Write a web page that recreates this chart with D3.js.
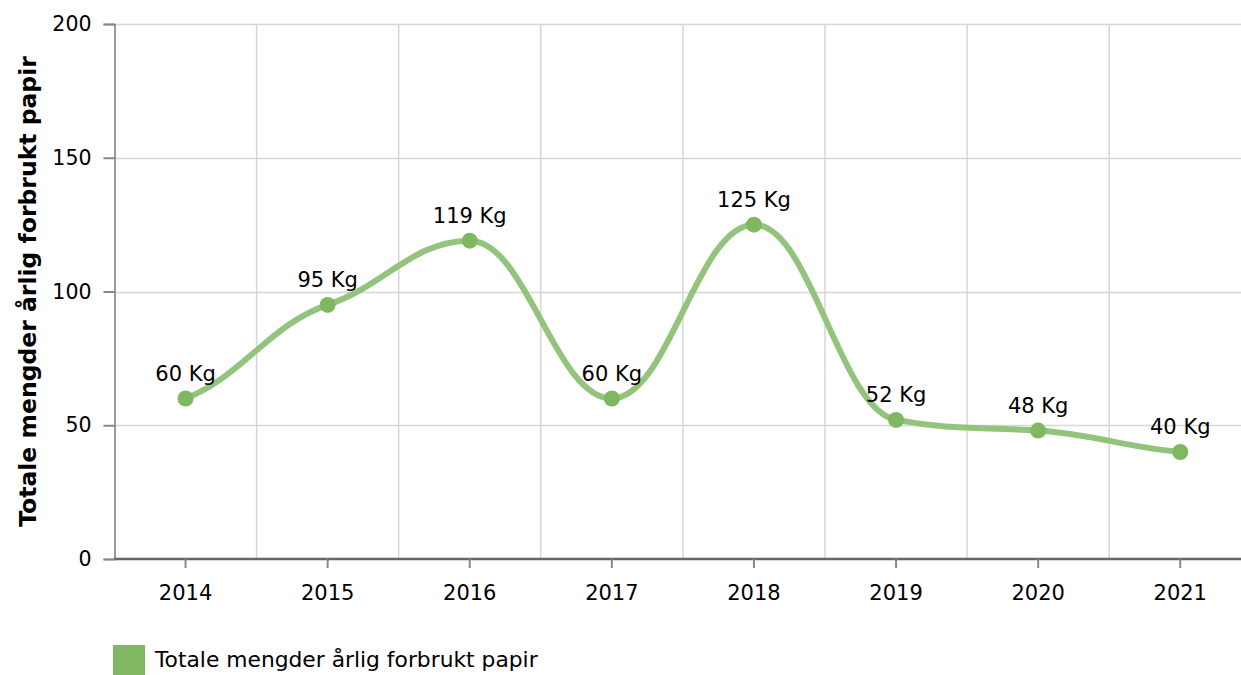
<!DOCTYPE html>
<html>
<head>
<meta charset="utf-8">
<script src="https://cdn.jsdelivr.net/npm/d3@7"></script>
<style>
  body { margin: 0; background: #fff; }
  text { font-family: "DejaVu Sans", Verdana, sans-serif; }
</style>
</head>
<body>
<div id="chart"></div>
<script>
var years = ["2014", "2015", "2016", "2017", "2018", "2019", "2020", "2021"];
var amounts = [60, 95, 119, 60, 125, 52, 48, 40];
var yTicks = [0, 50, 100, 150, 200];
var seriesName = "Totale mengder årlig forbrukt papir";
var yTitle = "Totale mengder årlig forbrukt papir";

var width = 1241;
var height = 675;
var margin = { top: 24, left: 114.5, bottom: 116 };

var data = years.map(function(y, i) {
  return { year: y, value: amounts[i] };
});

var svg = d3
  .select("#chart")
  .append("svg")
  .attr("width", width)
  .attr("height", height);

var xScale = d3
  .scaleBand()
  .domain(years)
  .range([margin.left, margin.left + 8 * 142.1]);

var yScale = d3
  .scaleLinear()
  .domain([0, 200])
  .range([height - margin.bottom, margin.top]);

function px(d) { return xScale(d.year) + xScale.bandwidth() / 2; }
function py(d) { return yScale(d.value); }

// gridlines
svg
  .append("g")
  .selectAll("line")
  .data(yTicks.slice(1))
  .enter()
  .append("line")
  .attr("x1", margin.left)
  .attr("x2", width)
  .attr("y1", function(d) { return Math.round(yScale(d)) + 0.5; })
  .attr("y2", function(d) { return Math.round(yScale(d)) + 0.5; })
  .attr("stroke", "#d6d6d6")
  .attr("stroke-width", 1.5);

svg
  .append("g")
  .selectAll("line")
  .data(years.slice(1))
  .enter()
  .append("line")
  .attr("x1", function(d) { return xScale(d); })
  .attr("x2", function(d) { return xScale(d); })
  .attr("y1", yScale(200))
  .attr("y2", yScale(0))
  .attr("stroke", "#d6d6d6")
  .attr("stroke-width", 1.5);

// y axis
var yAxis = d3.axisLeft(yScale).tickValues(yTicks).tickSize(11).tickPadding(12);
var yG = svg
  .append("g")
  .attr("transform", "translate(" + margin.left + ",0)")
  .call(yAxis);
yG.select(".domain").attr("stroke", "#777").attr("stroke-width", 1.5);
yG.selectAll(".tick line").attr("stroke", "#888").attr("stroke-width", 2);
yG.selectAll("text").style("font-size", "20.5px").attr("fill", "#000");

// x axis
var xAxis = d3.axisBottom(xScale).tickSizeInner(9).tickSizeOuter(0).tickPadding(17);
var xG = svg
  .append("g")
  .attr("transform", "translate(0," + yScale(0) + ")")
  .call(xAxis);
xG.select(".domain").attr("stroke", "#666").attr("stroke-width", 2.5)
  .attr("d", "M" + margin.left + ",0H" + width);
xG.selectAll(".tick line").attr("stroke", "#888").attr("stroke-width", 2);
xG.selectAll("text").style("font-size", "21px").attr("fill", "#000");

// y title
svg
  .append("text")
  .attr("transform", "translate(28," + yScale(100) + ") rotate(-90)")
  .attr("text-anchor", "middle")
  .attr("dy", "0.35em")
  .style("font-size", "23.5px")
  .style("font-weight", "bold")
  .text(yTitle);

// spline: long horizontal handles, damped slopes, flat at local extremes
function splinePath(pts) {
  var damp = 0.6, arm = 0.4;
  var n = pts.length;
  var ctrl = pts.map(function(pt, i) {
    var last = pts[Math.max(i - 1, 0)], next = pts[Math.min(i + 1, n - 1)];
    var slope = damp * (next.y - last.y) / (next.x - last.x);
    var dl = (pt.x - last.x) * arm, dr = (next.x - pt.x) * arm;
    var ly = pt.y - slope * dl, ry = pt.y + slope * dr;
    if (i > 0 && i < n - 1) {
      if (ly > Math.max(last.y, pt.y) || ly < Math.min(last.y, pt.y) ||
          ry > Math.max(next.y, pt.y) || ry < Math.min(next.y, pt.y)) {
        var lim = Math.min(
          Math.abs(last.y - pt.y) / dl,
          Math.abs(next.y - pt.y) / dr
        );
        if ((last.y - pt.y) * (next.y - pt.y) > 0) lim = 0;
        slope = Math.sign(slope) * Math.min(Math.abs(slope), lim);
        ly = pt.y - slope * dl;
        ry = pt.y + slope * dr;
      }
    }
    return { lx: pt.x - dl, ly: ly, rx: pt.x + dr, ry: ry };
  });
  var p = d3.path();
  p.moveTo(pts[0].x, pts[0].y);
  for (var i = 1; i < n; i++) {
    p.bezierCurveTo(ctrl[i - 1].rx, ctrl[i - 1].ry, ctrl[i].lx, ctrl[i].ly, pts[i].x, pts[i].y);
  }
  return p.toString();
}

svg
  .append("path")
  .datum(data)
  .attr("d", function(d) {
    return splinePath(d.map(function(e) { return { x: px(e), y: py(e) }; }));
  })
  .attr("fill", "none")
  .attr("stroke", "#93c47d")
  .attr("stroke-width", 6)
  .attr("stroke-linecap", "round");

// points
svg
  .append("g")
  .selectAll("circle")
  .data(data)
  .enter()
  .append("circle")
  .attr("cx", px)
  .attr("cy", py)
  .attr("r", 8)
  .attr("fill", "#80b862");

// data labels
svg
  .append("g")
  .selectAll("text")
  .data(data)
  .enter()
  .append("text")
  .attr("x", px)
  .attr("y", function(d) { return py(d) - 18; })
  .attr("text-anchor", "middle")
  .style("font-size", "21px")
  .attr("fill", "#000")
  .text(function(d) { return d.value + " Kg"; });

// legend
var legend = svg.append("g").attr("transform", "translate(113,645)");
legend
  .append("rect")
  .attr("width", 32)
  .attr("height", 31)
  .attr("fill", "#80b862");
legend
  .append("text")
  .attr("x", 42)
  .attr("y", 22)
  .style("font-size", "21.8px")
  .attr("fill", "#000")
  .text(seriesName);
</script>
</body>
</html>
